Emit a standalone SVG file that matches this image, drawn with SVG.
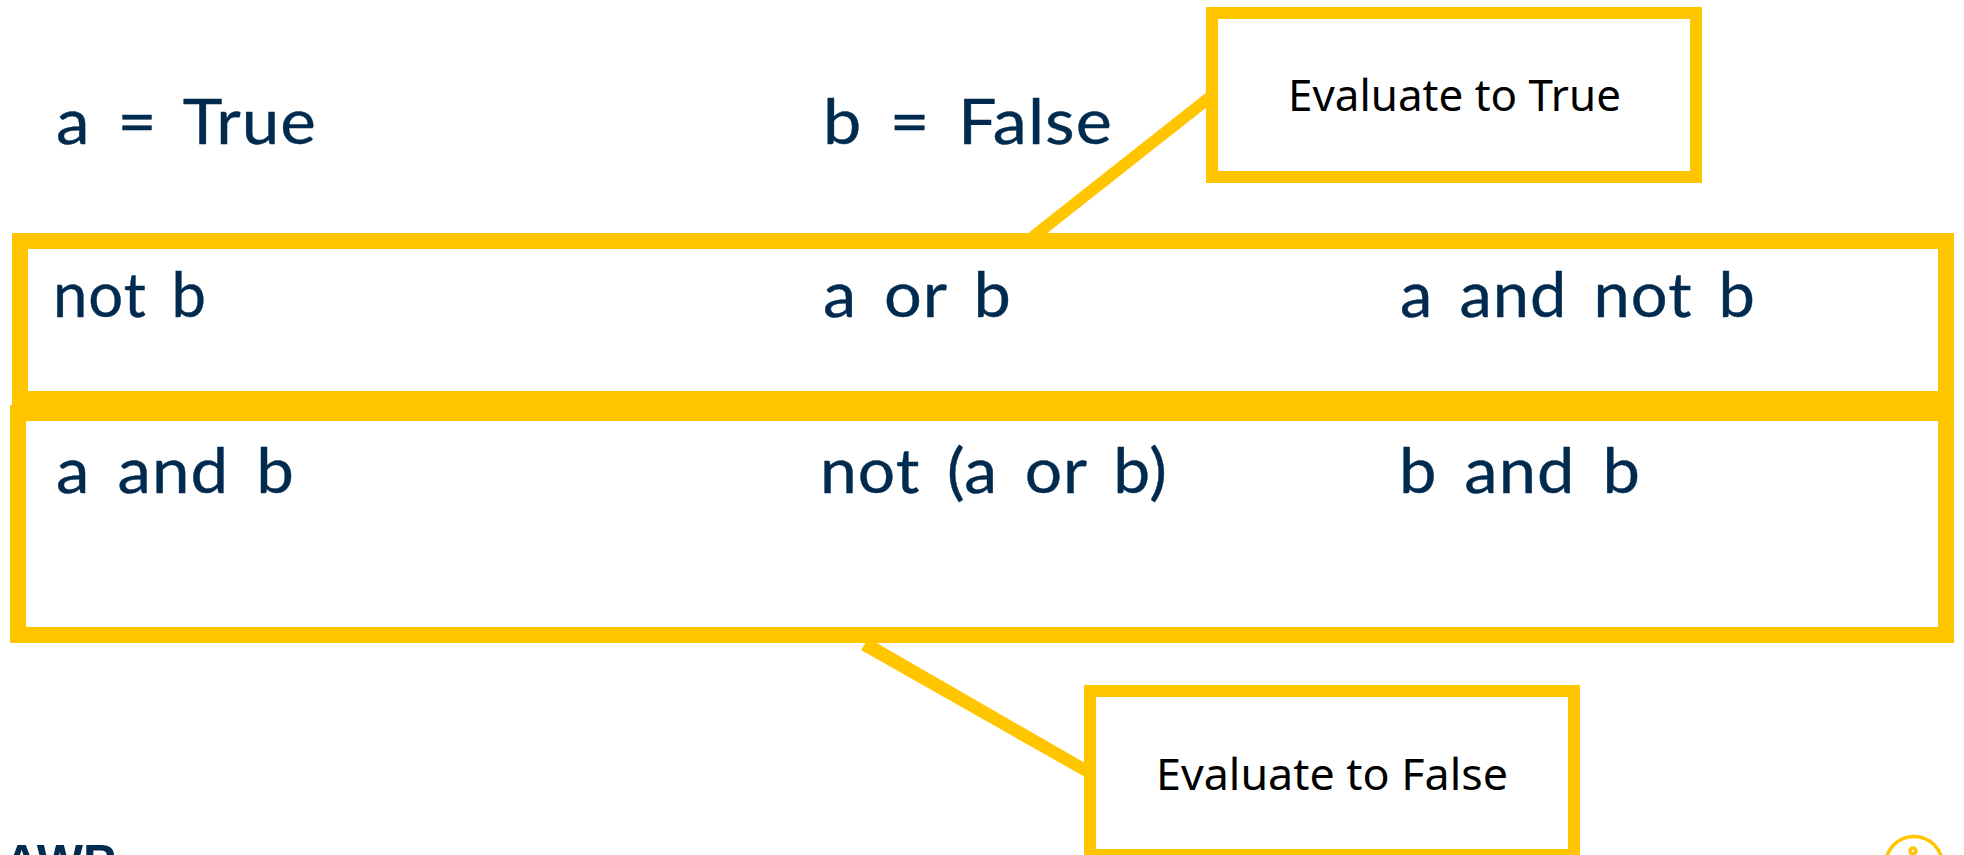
<svg xmlns="http://www.w3.org/2000/svg" width="1964" height="855" viewBox="0 0 1964 855">
<style>
.box{fill:none;stroke:#FFC600}
.big{stroke-width:16}
.call{stroke-width:12;fill:#fff}
.t{font-family:"Lato","Noto Sans",sans-serif;font-size:62px;fill:#002B4F;stroke:#002B4F;stroke-width:.4;letter-spacing:1px;word-spacing:8px}
.l{font-family:"Noto Sans","Liberation Sans",sans-serif;font-size:44px;fill:#000}
.c{fill:#FFC600}
</style>
<rect width="1964" height="855" fill="#fff"/>
<g id="connectors">
<polygon class="c" points="1207,92 1207,107 1046,234 1027,234"/>
<polygon class="c" points="866,642 875,642 1085,763 1085,777 861,650"/>
</g>
<g id="values">
<text class="t" x="56" y="144" textLength="261" lengthAdjust="spacingAndGlyphs">a = True</text>
<text class="t" x="823" y="144" textLength="290" lengthAdjust="spacingAndGlyphs">b = False</text>
</g>
<g id="true-group">
<rect class="box big" x="20" y="241" width="1926" height="158"/>
<text class="t" x="53" y="317" textLength="154" lengthAdjust="spacingAndGlyphs">not b</text>
<text class="t" x="823" y="317" textLength="189" lengthAdjust="spacingAndGlyphs">a or b</text>
<text class="t" x="1400" y="317" textLength="356" lengthAdjust="spacingAndGlyphs">a and not b</text>
</g>
<g id="false-group">
<rect class="box big" x="18" y="413" width="1928" height="222"/>
<text class="t" x="56" y="493" textLength="239" lengthAdjust="spacingAndGlyphs">a and b</text>
<text class="t" x="820" y="493" textLength="348" lengthAdjust="spacingAndGlyphs">not (a or b)</text>
<text class="t" x="1399" y="493" textLength="242" lengthAdjust="spacingAndGlyphs">b and b</text>
</g>
<g id="callout-true">
<rect class="box call" x="1212" y="13" width="484" height="164"/>
<text class="l" x="1288" y="111" textLength="333" lengthAdjust="spacingAndGlyphs">Evaluate to True</text>
</g>
<g id="callout-false">
<rect class="box call" x="1090" y="691" width="484" height="164"/>
<text class="l" x="1156" y="790" textLength="352" lengthAdjust="spacingAndGlyphs">Evaluate to False</text>
</g>
<g id="logo-text">
<text x="4" y="878" font-family="Liberation Sans, sans-serif" font-weight="700" font-size="49" fill="#002B4F">AWP</text>
</g>
<g id="logo-mark">
<circle cx="1914" cy="865" r="28.5" fill="none" stroke="#FFC600" stroke-width="3.5"/>
<circle cx="1913" cy="851" r="3" fill="#fff" stroke="#FFC600" stroke-width="3.5"/>
</g>
</svg>
